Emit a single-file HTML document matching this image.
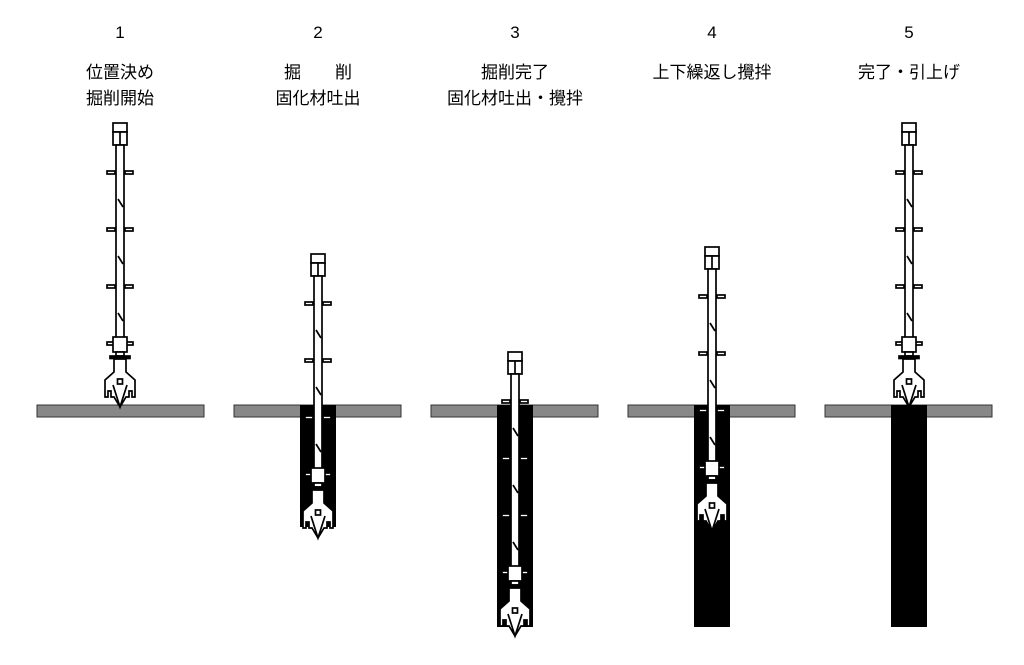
<!DOCTYPE html>
<html><head><meta charset="utf-8"><style>
body{margin:0;background:#fff}
svg{display:block}
text{font-family:"Liberation Sans","Noto Sans CJK JP",sans-serif;font-size:17px;fill:#000;text-anchor:middle}
</style></head><body>
<svg width="1024" height="665" viewBox="0 0 1024 665" xmlns="http://www.w3.org/2000/svg">
<defs>
<g id="drill" stroke="#000" stroke-width="1.7" fill="#fff">
  <rect x="-7" y="0" width="14" height="9"/>
  <rect x="-7" y="9" width="14" height="13"/>
  <line x1="0" y1="9" x2="0" y2="22"/>
  <rect x="-4" y="22" width="8" height="193"/>
  <g>
    <rect x="-13" y="48" width="8" height="3"/><rect x="5" y="48" width="8" height="3"/>
    <rect x="-13" y="105" width="8" height="3"/><rect x="5" y="105" width="8" height="3"/>
    <rect x="-13" y="162" width="8" height="3"/><rect x="5" y="162" width="8" height="3"/>
    <rect x="-13" y="219" width="8" height="3"/><rect x="5" y="219" width="8" height="3"/>
  </g>
  <line x1="-2" y1="76" x2="3" y2="84"/>
  <line x1="-2" y1="133" x2="3" y2="141"/>
  <line x1="-2" y1="190" x2="3" y2="198"/>
  <rect x="-7" y="214" width="14" height="15"/>
  <rect x="-4" y="229" width="8" height="4"/>
  <rect x="-10" y="233" width="20" height="2.5" fill="#000"/>
  <path d="M-6,236 H6 V249 L15,257 V274 H12 V268 H9 V274 H6 L0,284 L-6,274 H-9 V268 H-12 V274 H-15 V257 L-6,249 Z"/>
  <path d="M-7,262 L0,284 L7,262" fill="none"/>
  <rect x="-2.5" y="256" width="5" height="5"/>
</g>
</defs>

<text x="120" y="38">1</text>
<text x="318" y="38">2</text>
<text x="515" y="38">3</text>
<text x="712" y="38">4</text>
<text x="909" y="38">5</text>
<text x="120" y="78">位置決め</text>
<text x="120" y="104">掘削開始</text>
<text x="318" y="78">掘　　削</text>
<text x="318" y="104">固化材吐出</text>
<text x="515" y="78">掘削完了</text>
<text x="515" y="104">固化材吐出・攪拌</text>
<text x="712" y="78">上下繰返し攪拌</text>
<text x="909" y="78">完了・引上げ</text>

<g fill="#888" stroke="#333" stroke-width="1">
<rect x="37" y="405" width="167" height="12"/>
<rect x="234" y="405" width="167" height="12"/>
<rect x="431" y="405" width="167" height="12"/>
<rect x="628" y="405" width="167" height="12"/>
<rect x="825" y="405" width="167" height="12"/>
</g>
<g fill="#000">
<rect x="300" y="405" width="36" height="122"/>
<rect x="497" y="405" width="36" height="222"/>
<rect x="694" y="405" width="36" height="222"/>
<rect x="891" y="405" width="36" height="222"/>
</g>

<use href="#drill" x="120" y="123"/>
<use href="#drill" x="318" y="254"/>
<use href="#drill" x="515" y="352"/>
<use href="#drill" x="712" y="247"/>
<use href="#drill" x="909" y="123"/>
</svg>
</body></html>
